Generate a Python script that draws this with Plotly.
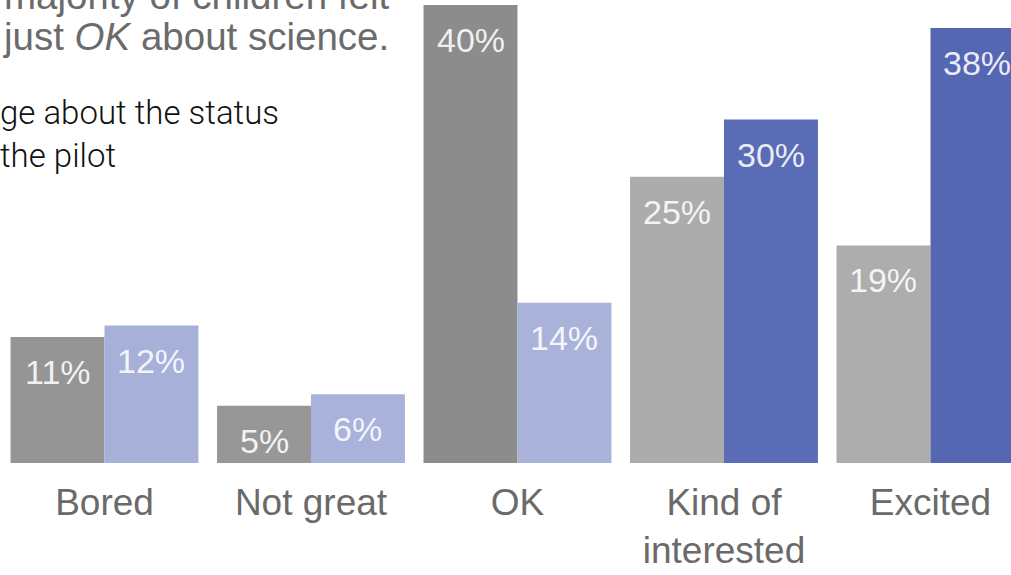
import plotly.graph_objects as go

categories = ["Bored", "Not great", "OK", "Kind of<br>interested", "Excited"]
before_values = [11, 5, 40, 25, 19]
after_values = [12, 6, 14, 30, 38]
before_labels = ["11%", "5%", "40%", "25%", "19%"]
after_labels = ["12%", "6%", "14%", "30%", "38%"]

before_colors = ["#959595", "#979797", "#8c8c8c", "#acacac", "#adadad"]
after_colors = ["#a6b0d9", "#a8b2da", "#a9b3da", "#5a6cb6", "#5567b3"]

x_pos = list(range(len(categories)))
BAR_W = 0.455

fig = go.Figure()
fig.add_trace(go.Bar(x=x_pos, y=before_values, marker=dict(color=before_colors, line=dict(width=0)),
                     name="Before", hoverinfo="skip"))
fig.add_trace(go.Bar(x=x_pos, y=after_values, marker=dict(color=after_colors, line=dict(width=0)),
                     name="After", hoverinfo="skip"))

annotations = []
for i in x_pos:
    for vals, labs, off in ((before_values, before_labels, -BAR_W / 2), (after_values, after_labels, BAR_W / 2)):
        annotations.append(dict(
            x=i + off, y=vals[i], xref="x", yref="y", text=labs[i], showarrow=False,
            xanchor="center", yanchor="top", yshift=-14,
            font=dict(family="Liberation Sans, Arial, sans-serif", size=34, color="rgba(255,255,255,0.88)"),
        ))

W, H = 1011, 575
BOTTOM = 112

title_font = dict(family="Liberation Sans, Arial, sans-serif", size=38.5, color="#6b6b6b")
text_blocks = [
    dict(x=391, y=H - 19, text="majority of children felt", xanchor="right", yanchor="bottom",
         font=title_font, align="right"),
    dict(x=391, y=H - 60, text="just <i>OK</i> about science.", xanchor="right", yanchor="bottom",
         font=title_font, align="right"),
    dict(x=-2, y=H - 91, text="ge about the status<br>the pilot", xanchor="left", yanchor="top",
         font=dict(family="Roboto, sans-serif", size=33, color="#111111", weight=300), align="left"),
]
for b in text_blocks:
    b["x"] = b["x"] / W
    b["y"] = (b["y"] - BOTTOM) / (H - BOTTOM)
    b.update(xref="paper", yref="paper", showarrow=False)
    annotations.append(b)

fig.update_layout(
    width=W, height=H,
    margin=dict(l=0, r=0, t=0, b=BOTTOM),
    paper_bgcolor="white", plot_bgcolor="white",
    barmode="group", bargap=0.09, bargroupgap=0,
    showlegend=False,
    xaxis=dict(range=[-0.506, 4.39], tickvals=x_pos, ticktext=categories,
               showgrid=False, zeroline=False, showline=False, ticks="",
               ticklabelstandoff=14,
               tickfont=dict(family="Liberation Sans, Arial, sans-serif", size=37, color="#6a6a6a")),
    yaxis=dict(range=[0, 40.44], visible=False, showgrid=False, zeroline=False),
    annotations=annotations,
)

fig.write_html("out.html", config={"displayModeBar": False},
               post_script="document.body.style.margin='0';document.body.style.overflow='hidden';")
